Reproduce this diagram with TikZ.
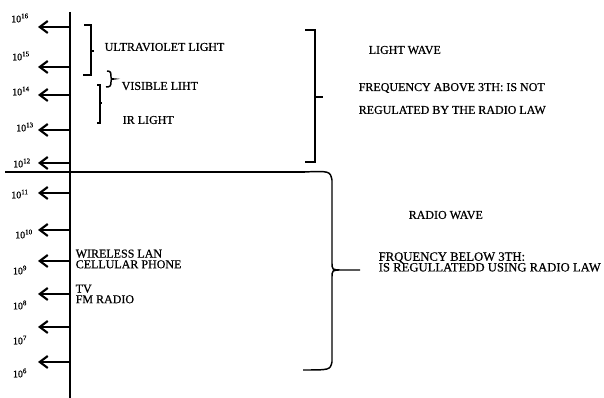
\documentclass[tikz,border=0pt]{standalone}
\usepackage{fontspec}
\setmainfont[FakeBold=0.6]{Liberation Serif}
\usetikzlibrary{arrows.meta}

\begin{document}
\begin{tikzpicture}[x=.75pt,y=-.75pt,line width=1.1pt,font=\fontsize{9}{8}\selectfont,
  freq/.style={-{Straight Barb[length=6pt,width=9pt]},line width=1.6pt},
  expo/.style={font=\fontsize{7.5}{8}\selectfont,inner sep=1pt},
  band/.style={anchor=west,inner sep=0pt,align=left}]
\useasboundingbox (0,0) rectangle (604,398);
% axis and split line
\coordinate (top) at (70,12);
\coordinate (bot) at (70,398);
\coordinate (sl) at (5,172);
\coordinate (sr) at (305,172);
\draw (top)--(bot) (sl)--(sr);
% frequency arrows
\coordinate (a16) at (70,27);  \coordinate (t16) at (38,27);
\coordinate (a15) at (70,67);  \coordinate (t15) at (38,67);
\coordinate (a14) at (70,95);  \coordinate (t14) at (38,95);
\coordinate (a13) at (70,130); \coordinate (t13) at (38,130);
\coordinate (a12) at (70,163); \coordinate (t12) at (38,163);
\coordinate (a11) at (70,193); \coordinate (t11) at (38,193);
\coordinate (a10) at (70,230); \coordinate (t10) at (38,230);
\coordinate (a9) at (70,261);  \coordinate (t9) at (38,261);
\coordinate (a8) at (70,294);  \coordinate (t8) at (38,294);
\coordinate (a7) at (70,327);  \coordinate (t7) at (38,327);
\coordinate (a6) at (70,362);  \coordinate (t6) at (38,362);
\draw[freq] (a16)--(t16);
\draw[freq] (a15)--(t15);
\draw[freq] (a14)--(t14);
\draw[freq] (a13)--(t13);
\draw[freq] (a12)--(t12);
\draw[freq] (a11)--(t11);
\draw[freq] (a10)--(t10);
\draw[freq] (a9)--(t9);
\draw[freq] (a8)--(t8);
\draw[freq] (a7)--(t7);
\draw[freq] (a6)--(t6);
\node[expo] (e16) at (20,18) {10\textsuperscript{16}};
\node[expo] (e15) at (21,56) {10\textsuperscript{15}};
\node[expo] (e14) at (21,91) {10\textsuperscript{14}};
\node[expo] (e13) at (25,127) {10\textsuperscript{13}};
\node[expo] (e12) at (22,163) {10\textsuperscript{12}};
\node[expo] (e11) at (20,194) {10\textsuperscript{11}};
\node[expo] (e10) at (24,234) {10\textsuperscript{10}};
\node[expo] (e9) at (20,270) {10\textsuperscript{9}};
\node[expo] (e8) at (20,305) {10\textsuperscript{8}};
\node[expo] (e7) at (20,340) {10\textsuperscript{7}};
\node[expo] (e6) at (20,373) {10\textsuperscript{6}};
% light bands
\draw (84,25)--(91,25)--(91,75)--(83,75) (91,51)--(94,51);
\draw (107,71)..controls (111,71) and (111,73)..(111,77)..controls (111,79)..(114,79)..controls (111,79)..(111,82)..controls (111,86) and (110,87)..(106,87);
\draw (97,85)--(100,85)--(100,123)--(97,123) (100,103)--(102,103);
\node[band] (uv) at (104,47) {ULTRAVIOLET LIGHT};
\node[band] (vis) at (121,86) {VISIBLE LIHT};
\node[band] (ir) at (122,120) {IR LIGHT};
% radio services
\node[band] (lan) at (75,259) {WIRELESS LAN\\CELLULAR PHONE};
\node[band] (tv) at (75,294) {TV\\FM RADIO};
% big braces
\draw (305,30)--(315,30)--(315,162)--(305,162) (315,97)--(323,97);
\draw (303,172)..controls (330,171)..(332,180)--(332,262)..controls (332,270)..(342,270)..controls (332,270)..(332,278)--(332,362)..controls (330,370)..(303,370) (342,270)--(360,270);
\node[band] (lw) at (368,50) {LIGHT WAVE};
\node[band] (lw1) at (358,88) {FREQUENCY ABOVE 3TH: IS NOT};
\node[band] (lw2) at (358,110) {REGULATED BY THE RADIO LAW};
\node[band] (rw) at (408,215) {RADIO WAVE};
\node[band,font=\fontsize{9.5}{8}\selectfont] (rw1) at (378,262) {FRQUENCY BELOW 3TH:\\IS REGULLATEDD USING RADIO LAW};
\end{tikzpicture}
\end{document}
